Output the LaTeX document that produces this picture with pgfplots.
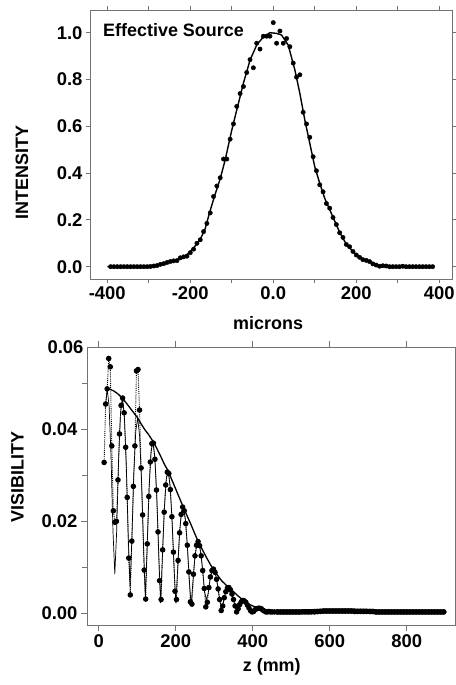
\documentclass[border=0pt]{standalone}
\usepackage{fontspec}
\setmainfont{Liberation Sans}
\usepackage{pgfplots}
\pgfplotsset{compat=1.18}
\begin{document}
\begin{tikzpicture}
\useasboundingbox (0bp,0bp) rectangle (456bp,685bp);
\pgfplotsset{
  every axis/.append style={
    scale only axis,
    axis line style={black!55, line width=0.8bp},
    tick align=outside,
    tick style={black!55, line width=0.8bp},
    tick label style={font=\fontsize{18.5}{20}\selectfont\bfseries, black},
    label style={font=\fontsize{18}{20}\selectfont\bfseries},
    /pgf/number format/assume math mode=true,
  }
}
% ---------------- top panel ----------------
\begin{axis}[
  at={(90bp,406bp)}, anchor=south west, width=362bp, height=269bp,
  xmin=-441.7, xmax=430.7, ymin=-0.0526, ymax=1.097,
  xtick={-400,-300,-200,-100,0,100,200,300,400},
  xticklabels={-400,{},-200,{},0.0,{},200,{},400},
  ytick={0,0.2,0.4,0.6,0.8,1.0},
  yticklabels={0.0,0.2,0.4,0.6,0.8,1.0},
  major tick length=4bp,
  xlabel={microns}, ylabel={INTENSITY},
  xlabel style={at={(axis description cs:0.492,-0.165)}, anchor=center},
  ylabel style={at={(axis description cs:-0.188,0.396)}, anchor=center},
]
\addplot[black, line width=1.4bp] coordinates {
(-400,0) (-300,0) (-280,0.006) (-265,0.014) (-241,0.026) (-217,0.040) (-205,0.056)
(-193,0.079) (-185,0.095) (-177,0.114) (-165,0.157) (-154,0.228) (-141,0.305)
(-128,0.375) (-116,0.456) (-100,0.584) (-88,0.670) (-72,0.784) (-56,0.883)
(-40,0.947) (-24,0.982) (-8,1.000) (8,0.997) (20,0.990) (36,0.947) (52,0.841)
(64,0.741) (76,0.627) (88,0.527) (100,0.427) (112,0.356) (124,0.292) (133,0.256)
(145,0.207) (161,0.143) (177,0.093) (193,0.064) (209,0.036) (221,0.027)
(233,0.021) (243,0.010) (253,0.003) (270,0) (385,0)
};
\addplot[only marks, mark=*, mark size=2.2bp, black] coordinates {
(-392,0) (-384,0) (-376,0) (-368,0) (-360,0) (-352,0) (-344,0) (-336,0) (-328,0)
(-320,0) (-312,0) (-304,0) (-296,0.001) (-288,0.003) (-280,0.005) (-272,0.010)
(-264,0.013) (-256,0.018) (-248,0.022) (-240,0.025) (-232,0.026) (-224,0.038)
(-216,0.042) (-208,0.045) (-200,0.060) (-192,0.075) (-184,0.100) (-176,0.115)
(-168,0.150) (-160,0.185) (-152,0.230) (-144,0.300) (-136,0.345) (-128,0.380)
(-120,0.460) (-112,0.460) (-104,0.545) (-96,0.610) (-88,0.685) (-80,0.740)
(-72,0.770) (-64,0.830) (-56,0.885) (-48,0.850) (-40,0.955) (-32,0.930)
(-24,0.985) (-16,0.985) (-8,0.985) (0,1.043) (8,0.955) (16,1.007) (24,0.955)
(32,0.975) (40,0.940) (48,0.870) (56,0.810) (64,0.820) (72,0.660) (80,0.610)
(88,0.553) (96,0.470) (104,0.410) (112,0.350) (120,0.320) (128,0.270) (136,0.250)
(144,0.210) (152,0.180) (160,0.145) (168,0.125) (176,0.095) (184,0.085) (192,0.065)
(200,0.050) (208,0.040) (216,0.030) (224,0.027) (232,0.022) (240,0.012) (248,0.007)
(256,0.002) (264,0.004) (272,0.003) (280,0) (288,0) (296,0) (304,0) (312,0.002)
(320,0) (328,0) (336,0) (344,0) (352,0) (360,0) (368,0) (376,0) (384,0)
};
\node[anchor=base west, inner sep=0pt, font=\fontsize{18}{20}\selectfont\bfseries]
  at (axis description cs:0.036,0.903) {Effective Source};
\end{axis}
% ---------------- bottom panel ----------------
\begin{axis}[
  at={(87bp,60bp)}, anchor=south west, width=368bp, height=278bp,
  xmin=-30.4, xmax=925, ymin=-0.00254, ymax=0.0579,
  xtick={0,200,400,600,800},
  ytick={0,0.02,0.04}, yticklabels={0.00,0.02,0.04},
  minor ytick={0.01,0.03,0.05},
  extra y ticks={0.0579}, extra y tick labels={0.06},
  extra y tick style={major tick length=0pt},
  scaled y ticks=false,
  major tick length=6bp, minor tick length=5bp,
  xlabel={z (mm)}, ylabel={VISIBILITY},
  xlabel style={at={(axis description cs:0.502,-0.150)}, anchor=center},
  ylabel style={at={(axis description cs:-0.189,0.531)}, anchor=center},
]
\addplot[black, line width=1.3bp] coordinates {
(22,0.0488) (30,0.0487) (40,0.0483) (50,0.0477) (60,0.0469) (70,0.0459) (80,0.0448)
(90,0.0437) (100,0.0426) (110,0.0412) (120,0.0399) (130,0.0388) (140,0.0375)
(150,0.0360) (160,0.0343) (170,0.0325) (180,0.0310) (190,0.0290) (200,0.0270)
(210,0.0250) (220,0.0230) (230,0.0211) (240,0.0192) (250,0.0172) (260,0.0153)
(270,0.0137) (280,0.0121) (290,0.0106) (300,0.0093) (310,0.0081) (320,0.0070)
(330,0.0062) (340,0.0055) (350,0.0047) (360,0.0039) (370,0.0032) (380,0.0026)
(390,0.0020) (400,0.0016) (410,0.0013) (420,0.0010) (430,0.0008) (440,0.0006)
(450,0.0005) (470,0.0003) (895,0.0003)
};
\addplot[black, line width=0.7bp] coordinates {
(17,0.0445) (22,0.0488) (27,0.0450) (32,0.0341) (37,0.0180) (41.8,0.0085)
(46.6,0.0178) (51.6,0.0334) (56.6,0.0435) (61.6,0.0468)
(66.6,0.0427) (71.6,0.0322) (76.6,0.0168) (81.4,0.0058) (86.2,0.0164)
(91.2,0.0306) (96.2,0.0396) (101.2,0.0425)
(106.2,0.0385) (111.2,0.0289) (116.2,0.0150) (121,0.0033) (125.8,0.0145)
(130.8,0.0272) (135.8,0.0351) (140.8,0.0373)
(145.8,0.0337) (150.8,0.0252) (155.8,0.0130) (160.6,0.0022) (165.4,0.0124)
(170.4,0.0228) (175.4,0.0292) (180.4,0.0309)
(185.4,0.0277) (190.4,0.0203) (195.4,0.0104) (200.2,0.0022) (205,0.0096)
(210,0.0176) (215,0.0221) (220,0.0230)
(225,0.0204) (230,0.0148) (235,0.0075) (239.8,0.0018) (244.6,0.0068)
(249.6,0.0121) (254.6,0.0150) (259.6,0.0154)
(264.6,0.0134) (269.6,0.0096) (274.6,0.0048) (279.4,0.0030) (284.2,0.0043)
(289.2,0.0075) (294.2,0.0093) (299.2,0.0095)
(304.2,0.0081) (309.2,0.0058) (314.2,0.0029) (319,0.0012) (323.8,0.0025)
(328.8,0.0044) (333.8,0.0054) (338.8,0.0055)
(343.8,0.0048) (348.8,0.0034) (353.8,0.0016) (358.6,0.0005) (363.4,0.0013)
(368.4,0.0023) (373.4,0.0028) (378.4,0.0027)
(383.4,0.0022) (388.4,0.0015) (393.4,0.0007) (398.2,0.0003) (403,0.0006)
(408,0.0009) (413,0.0011) (418,0.0011)
(423,0.0009) (428,0.0006) (433,0.0004) (437.8,0.0003) (445,0.0004) (452,0.0004)
(460,0.0003) (895,0.0003)
};
\addplot[black, densely dotted, line width=0.9bp, mark=*, mark size=2.3bp,
  mark options={solid}] coordinates {
(14,0.0328) (18,0.0455) (22,0.0488) (26,0.0554) (30,0.0536) (34,0.0364) (38,0.0223)
(42,0.0198) (46,0.0200) (50,0.0290) (54,0.0390) (58,0.0452) (62,0.0468) (66,0.0436)
(70,0.0361) (74,0.0252) (78,0.0120) (82,0.0040) (86,0.0157) (90,0.0276) (94,0.0364)
(98,0.0527) (102,0.0530) (106,0.0442) (110,0.0316) (114,0.0214) (118,0.0094)
(122,0.0031) (126,0.0151) (130,0.0254) (134,0.0329) (138,0.0369) (142,0.0370)
(146,0.0335) (150,0.0268) (154,0.0177) (158,0.0071) (162,0.0030) (166,0.0138)
(170,0.0220) (174,0.0279) (178,0.0307) (182,0.0304) (186,0.0269) (190,0.0210)
(194,0.0133) (198,0.0048) (202,0.0030) (206,0.0115) (210,0.0175) (214,0.0215)
(218,0.0231) (222,0.0223) (226,0.0195) (230,0.0148) (234,0.0090) (238,0.0025)
(242,0.0020) (246,0.0085) (250,0.0125) (254,0.0148) (258,0.0156) (262,0.0147)
(266,0.0125) (270,0.0093) (274,0.0054) (278,0.0014) (282,0.0024) (286,0.0056)
(290,0.0079) (294,0.0093) (298,0.0096) (302,0.0089) (306,0.0074) (310,0.0053)
(314,0.0030) (318,0.0006) (322,0.0016) (326,0.0034) (330,0.0047) (334,0.0055)
(338,0.0056) (342,0.0051) (346,0.0042) (350,0.0030) (354,0.0016) (358,0.0003)
(362,0.0010) (366,0.0019) (370,0.0025) (374,0.0028) (378,0.0027) (382,0.0024)
(386,0.0018) (390,0.0012) (394,0.0006) (398,0.0003) (402,0.0004) (406,0.0008)
(410,0.0010) (414,0.0011) (418,0.0011) (422,0.0010) (426,0.0007) (430,0.0005)
(434,0.0003) (438,0.0003) (442,0.0004) (446,0.0003) (450,0.0003)
(456,0.0003) (464,0.0003) (472,0.0003) (480,0.0003) (488,0.0003) (496,0.0003)
(504,0.0003) (512,0.0003) (520,0.0003) (528,0.0003) (536,0.0003) (544,0.0003)
(552,0.0003) (560,0.0003) (568,0.0004) (576,0.0004) (584,0.0005) (592,0.0005)
(600,0.0005) (608,0.0005) (616,0.0005) (624,0.0005) (632,0.0005) (640,0.0005)
(648,0.0005) (656,0.0005) (664,0.0004) (672,0.0004) (680,0.0004) (688,0.0004)
(696,0.0004) (704,0.0004) (712,0.0004) (720,0.0003) (728,0.0003) (736,0.0003)
(744,0.0003) (752,0.0003) (760,0.0003) (768,0.0003) (776,0.0003) (784,0.0003)
(792,0.0003) (800,0.0003) (808,0.0003) (816,0.0003) (824,0.0003) (832,0.0003)
(840,0.0003) (848,0.0003) (856,0.0003) (864,0.0003) (872,0.0003) (880,0.0003)
(888,0.0003) (896,0.0003)
};
% the densely packed points of the flat tail merge into one thick band
\addplot[black, solid, line width=5.2bp, line cap=round] coordinates {
(462,0.0003) (520,0.0003) (568,0.0004) (584,0.0005) (656,0.0005) (712,0.0004)
(720,0.0003) (896,0.0003)
};
\end{axis}
\end{tikzpicture}
\end{document}
